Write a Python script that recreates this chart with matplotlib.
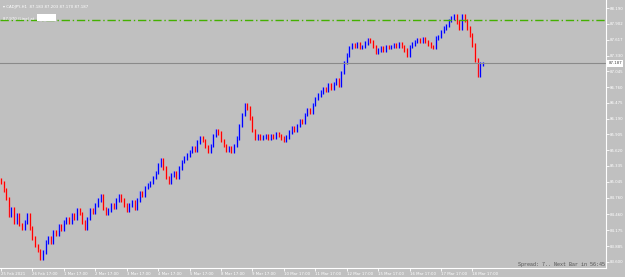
import matplotlib.pyplot as plt
import numpy as np

# CADJPY H1, closes every 2 bars (hours since 25 Feb 17:00)
closes = [85.03, 84.90, 84.75, 84.45, 84.57, 84.32, 84.45, 84.27, 84.21, 84.32,
          84.45, 84.21, 84.03, 83.90, 83.81, 83.67, 83.78, 83.96, 84.03, 83.96,
          84.14, 84.09, 84.25, 84.18, 84.32, 84.39, 84.32, 84.45, 84.39, 84.54,
          84.47, 84.32, 84.21, 84.39, 84.54, 84.50, 84.63, 84.72, 84.79, 84.57,
          84.47, 84.54, 84.63, 84.59, 84.72, 84.79, 84.72, 84.63, 84.54, 84.63,
          84.68, 84.57, 84.72, 84.86, 84.81, 84.94, 84.99, 85.04, 85.12, 85.22,
          85.35, 85.44, 85.30, 85.12, 85.04, 85.17, 85.22, 85.12, 85.30, 85.41,
          85.48, 85.53, 85.59, 85.66, 85.62, 85.77, 85.84, 85.80, 85.68, 85.59,
          85.71, 85.89, 85.98, 85.93, 85.80, 85.71, 85.62, 85.66, 85.59, 85.71,
          85.84, 86.07, 86.26, 86.44, 86.38, 86.20, 85.98, 85.84, 85.89, 85.84,
          85.86, 85.88, 85.84, 85.89, 85.86, 85.91, 85.88, 85.84, 85.80, 85.86,
          85.95, 86.02, 85.98, 86.07, 86.16, 86.13, 86.26, 86.35, 86.31, 86.44,
          86.56, 86.62, 86.67, 86.74, 86.71, 86.80, 86.74, 86.82, 86.89, 86.80,
          87.03, 87.21, 87.34, 87.47, 87.52, 87.50, 87.54, 87.47, 87.50, 87.56,
          87.61, 87.58, 87.49, 87.39, 87.43, 87.47, 87.43, 87.50, 87.47, 87.50,
          87.52, 87.49, 87.54, 87.50, 87.43, 87.34, 87.49, 87.54, 87.58, 87.61,
          87.58, 87.63, 87.58, 87.54, 87.50, 87.47, 87.65, 87.68, 87.76, 87.83,
          87.88, 87.97, 88.01, 88.06, 87.94, 87.83, 88.05, 87.97, 87.83, 87.70,
          87.52, 87.25, 86.98, 87.18, 87.19]
hours = np.arange(len(closes)) * 2

price_ticks = [88.190, 87.902, 87.617, 87.330, 87.045, 86.760, 86.475, 86.190, 85.905,
               85.620, 85.335, 85.045, 84.760, 84.460, 84.175, 83.885, 83.600]
time_labels = ['25 Feb 2021', '26 Feb 17:00', '1 Mar 17:00', '2 Mar 17:00', '3 Mar 17:00',
               '4 Mar 17:00', '5 Mar 17:00', '8 Mar 17:00', '9 Mar 17:00', '10 Mar 17:00',
               '11 Mar 17:00', '12 Mar 17:00', '15 Mar 17:00', '16 Mar 17:00',
               '17 Mar 17:00', '18 Mar 17:00']
alert_level = 87.97
last_price = 87.187

bg = '#c0c0c0'
fig = plt.figure(figsize=(6.25, 2.77), dpi=100, facecolor=bg)
ax = fig.add_axes([0, 9 / 277, 606 / 625, 268 / 277], facecolor=bg)

opens = [closes[0] + 0.05] + closes[:-1]
pad = 0.03
for h, o, c in zip(hours, opens, closes):
    col = '#0000ff' if c >= o else '#ff0000'
    ax.vlines(h, min(o, c) - pad, max(o, c) + pad, color='#9aa8ff' if c >= o else '#ff9f9f',
              lw=1.7, alpha=0.5)
    ax.vlines(h, min(o, c) - pad, max(o, c) + pad, color=col, lw=0.9)

ax.axhline(alert_level, color='#44b000', lw=1.0, ls=(0, (6, 2, 1, 2)))
ax.axhline(last_price, color='#8a8a8a', lw=0.8)

ax.set_xlim(-0.76, 462)
ax.set_ylim(83.489, 88.335)

for s in ['top', 'left']:
    ax.spines[s].set_visible(False)
for s in ['right', 'bottom']:
    ax.spines[s].set_color('white')
    ax.spines[s].set_linewidth(0.8)

ax.yaxis.tick_right()
ax.set_yticks(price_ticks)
ax.set_yticklabels(['%.3f' % p for p in price_ticks])
ax.set_xticks(np.arange(len(time_labels)) * 24)
ax.set_xticklabels(time_labels)
ax.tick_params(colors='white', labelsize=2.8, length=2, width=0.6, pad=1)
for lab in ax.get_xticklabels():
    lab.set_horizontalalignment('left')

ax.text(1.004, (last_price - 83.489) / (88.335 - 83.489), '%.3f' % last_price,
        transform=ax.transAxes, fontsize=2.8, color='#404040', va='center', ha='left',
        bbox=dict(facecolor='white', edgecolor='none', pad=0.8))

fig.text(0.005, 0.982, '\u25be CADJPY,H1  87.183 87.203 87.170 87.187', fontsize=2.8,
         color='white', va='top')
fig.text(0.005, 0.94, '87.970 (Line) at', fontsize=2.8, color='white', va='top')
fig.patches.append(plt.Rectangle((0.059, 0.925), 0.03, 0.025, transform=fig.transFigure,
                                 facecolor='white', edgecolor='none'))
fig.text(0.968, 0.045, 'Spread: 7.. Next Bar in 56:45', fontsize=3.6, color='#505050',
         family='Liberation Mono', ha='right', va='center')

plt.savefig('out.png', dpi=100, facecolor=bg)
